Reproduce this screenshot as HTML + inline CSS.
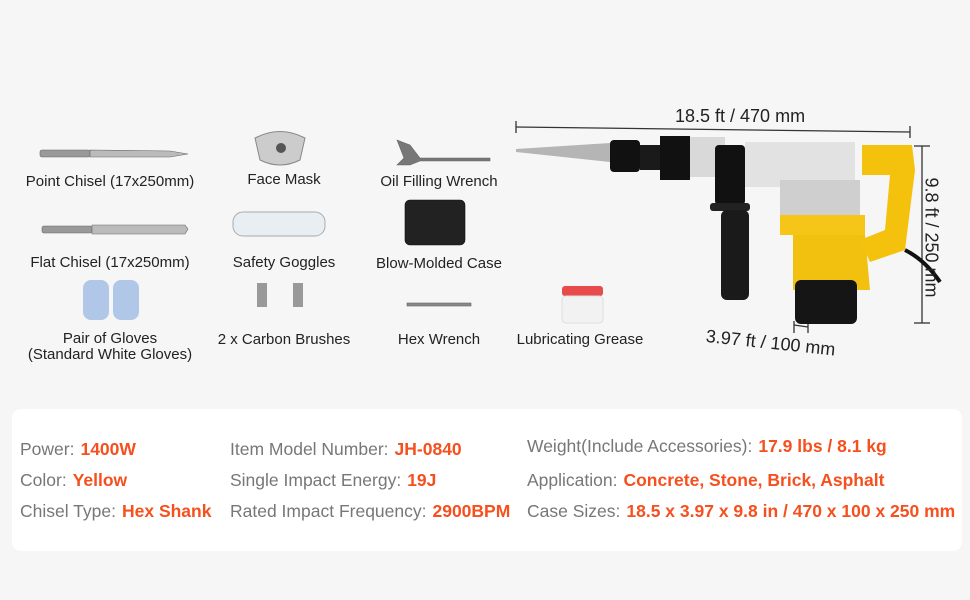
<!DOCTYPE html>
<html><head><meta charset="utf-8"><style>
body{margin:0;width:970px;height:600px;background:#f6f6f6;position:relative;overflow:hidden;font-family:"Liberation Sans",Arial,sans-serif;}
.t{position:absolute;font-size:15px;color:#222;white-space:nowrap;text-align:center;}
.p{position:absolute;left:12px;top:409px;width:950px;height:142px;background:#fff;border-radius:9px;}
.r{position:absolute;font-size:17.5px;color:#777;white-space:nowrap;}
.r b{color:#f5501e;margin-left:6px;}
svg{position:absolute;left:0;top:0;}
</style></head><body>
<svg width="970" height="400">
<!-- accessories -->
<g fill="#999" stroke="#666" stroke-width="0.6">
<rect x="40" y="150" width="50" height="7" rx="2"/><path d="M90 150 L170 151 L188 154 L170 157 L90 157Z" fill="#bbb"/>
<rect x="42" y="226" width="50" height="7" rx="2"/><path d="M92 225 L185 225 L188 229 L185 234 L92 234Z" fill="#bbb"/>
<path d="M397 140 L410 145 L420 158 L490 158 L490 161 L420 161 L410 165 L397 165 L404 158Z" fill="#777"/>
<rect x="405" y="200" width="60" height="45" rx="5" fill="#222" stroke="#111"/>
<rect x="407" y="303" width="64" height="3" fill="#888"/>
</g>
<path d="M255 138 Q280 125 305 138 L300 160 Q280 170 260 160Z" fill="#ccc" stroke="#888"/>
<circle cx="281" cy="148" r="5" fill="#555"/>
<rect x="233" y="212" width="92" height="24" rx="10" fill="#e8eef2" stroke="#aaa"/>
<rect x="83" y="280" width="26" height="40" rx="8" fill="#b0c7e8"/><rect x="113" y="280" width="26" height="40" rx="8" fill="#b0c7e8"/>
<rect x="257" y="283" width="10" height="24" fill="#999"/><rect x="293" y="283" width="10" height="24" fill="#999"/>
<rect x="562" y="286" width="41" height="10" rx="3" fill="#e74b4b"/><rect x="562" y="296" width="41" height="27" rx="4" fill="#f2f2f2" stroke="#ddd"/>
<!-- dimension lines -->
<g stroke="#333" stroke-width="1.3">
<line x1="516" y1="127" x2="910" y2="132"/><line x1="516" y1="121" x2="516" y2="133"/><line x1="910" y1="126" x2="910" y2="138"/>
<line x1="922" y1="146" x2="922" y2="323"/><line x1="914" y1="146" x2="930" y2="146"/><line x1="914" y1="323" x2="930" y2="323"/>
<line x1="794" y1="325" x2="808" y2="327"/><line x1="794" y1="321" x2="794" y2="333"/><line x1="808" y1="321" x2="808" y2="333"/>
</g>
<!-- drill -->
<path d="M516 149 L610 143 L610 162 L516 152Z" fill="#b5b5b5"/>
<rect x="610" y="140" width="30" height="32" rx="4" fill="#111"/>
<rect x="640" y="145" width="40" height="25" fill="#1a1a1a"/>
<rect x="660" y="136" width="30" height="44" fill="#111"/>
<rect x="690" y="137" width="35" height="40" fill="#d9d9d9"/>
<rect x="715" y="145" width="30" height="60" rx="4" fill="#111"/>
<rect x="745" y="142" width="110" height="45" fill="#e2e2e2"/>
<rect x="780" y="180" width="80" height="35" fill="#cfcfcf"/>
<rect x="710" y="203" width="40" height="8" rx="3" fill="#222"/>
<rect x="721" y="210" width="28" height="90" rx="6" fill="#1a1a1a"/>
<rect x="780" y="215" width="85" height="20" fill="#f5c518"/>
<path d="M793 235 L865 235 L870 290 L793 290Z" fill="#f2c10f"/>
<rect x="795" y="280" width="62" height="44" rx="6" fill="#151515"/>
<path d="M862 145 L912 145 L915 170 L905 250 L870 262 L860 240 L885 230 L890 175 L862 175Z" fill="#f4c20d"/>
<path d="M905 250 Q925 260 940 282" stroke="#111" stroke-width="4" fill="none"/>
</svg>
<div class="t" style="left:20px;top:173px;width:180px">Point Chisel (17x250mm)</div>
<div class="t" style="left:20px;top:254px;width:180px">Flat Chisel (17x250mm)</div>
<div class="t" style="left:20px;top:331px;width:180px;line-height:16px">Pair of Gloves<br>(Standard White Gloves)</div>
<div class="t" style="left:214px;top:171px;width:140px">Face Mask</div>
<div class="t" style="left:214px;top:254px;width:140px">Safety Goggles</div>
<div class="t" style="left:204px;top:331px;width:160px">2 x Carbon Brushes</div>
<div class="t" style="left:364px;top:173px;width:150px">Oil Filling Wrench</div>
<div class="t" style="left:364px;top:255px;width:150px">Blow-Molded Case</div>
<div class="t" style="left:364px;top:331px;width:150px">Hex Wrench</div>
<div class="t" style="left:505px;top:331px;width:150px">Lubricating Grease</div>
<div class="t" style="left:675px;top:106px;font-size:18px">18.5 ft / 470 mm</div>
<div class="t" style="left:707px;top:326px;font-size:18px;transform:rotate(6deg);transform-origin:left top">3.97 ft / 100 mm</div>
<div class="t" style="left:856px;top:227px;font-size:18px;transform:rotate(90deg);width:150px">9.8 ft / 250 mm</div>
<div class="p"></div>
<div class="r" style="left:20px;top:439px">Power:<b>1400W</b></div>
<div class="r" style="left:20px;top:470px">Color:<b>Yellow</b></div>
<div class="r" style="left:20px;top:501px">Chisel Type:<b>Hex Shank</b></div>
<div class="r" style="left:230px;top:439px">Item Model Number:<b>JH-0840</b></div>
<div class="r" style="left:230px;top:470px">Single Impact Energy:<b>19J</b></div>
<div class="r" style="left:230px;top:501px">Rated Impact Frequency:<b>2900BPM</b></div>
<div class="r" style="left:527px;top:436px">Weight(Include Accessories):<b>17.9 lbs / 8.1 kg</b></div>
<div class="r" style="left:527px;top:470px">Application:<b>Concrete, Stone, Brick, Asphalt</b></div>
<div class="r" style="left:527px;top:501px">Case Sizes:<b>18.5 x 3.97 x 9.8 in / 470 x 100 x 250 mm</b></div>
</body></html>
